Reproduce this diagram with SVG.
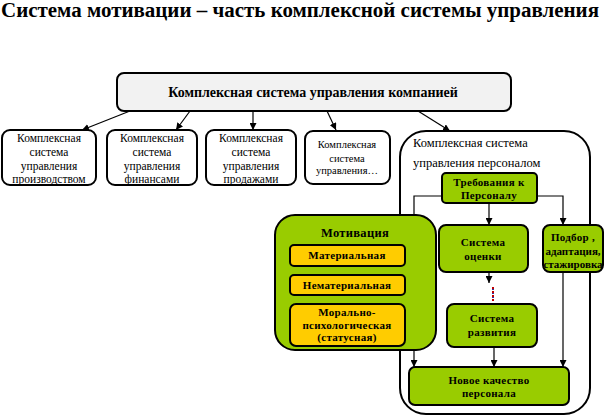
<svg xmlns="http://www.w3.org/2000/svg" width="605" height="416" viewBox="0 0 605 416">
<defs>
<marker id="ah" viewBox="0 0 10 10" refX="10" refY="5" markerWidth="7" markerHeight="7" orient="auto" markerUnits="userSpaceOnUse">
<path d="M0,0 L10,5 L0,10 z" fill="#000"/>
</marker>
<style>
text{font-family:"Liberation Serif","Times New Roman",serif;fill:#000;text-anchor:middle}
.b{font-weight:bold;letter-spacing:0.3px}
.box{stroke:#000;stroke-width:2}
.w{fill:#fff}
.g{fill:#99cc00}
.o{fill:#ffcc00}
.s{font-size:11px}
.r{font-size:11.5px}
.c{fill:none;stroke:#000;stroke-width:1.2}
</style>
</defs>
<rect width="605" height="416" fill="#fff"/>
<text x="300" y="17" font-size="20" font-weight="bold" textLength="598" lengthAdjust="spacingAndGlyphs">Система мотивации – часть комплексной системы управления</text>

<g id="personnel">
<rect class="box" x="400" y="131" width="190" height="283" rx="26" fill="#fff"/>
<text x="413" y="147" font-size="12.5" style="text-anchor:start">Комплексная система</text>
<text x="413" y="167" font-size="12.5" style="text-anchor:start">управления персоналом</text>
</g>

<g id="connectors">
<line class="c" x1="130" y1="111" x2="82" y2="130" marker-end="url(#ah)"/>
<line class="c" x1="190" y1="111" x2="176" y2="130" marker-end="url(#ah)"/>
<line class="c" x1="253" y1="111" x2="253" y2="130" marker-end="url(#ah)"/>
<line class="c" x1="327" y1="111" x2="336" y2="130" marker-end="url(#ah)"/>
<line class="c" x1="418" y1="111" x2="450" y2="131" marker-end="url(#ah)"/>
<polyline class="c" points="442,196 414,196 414,367" marker-end="url(#ah)"/>
<line class="c" x1="489" y1="203" x2="489" y2="225" marker-end="url(#ah)"/>
<polyline class="c" points="537,196 563,196 563,225" marker-end="url(#ah)"/>
<line class="c" x1="489" y1="272" x2="489" y2="283" marker-end="url(#ah)"/>
<line x1="493" y1="287" x2="493" y2="301" stroke="#c00000" stroke-width="2" stroke-dasharray="2,2"/>
<line x1="493" y1="289" x2="493" y2="301" stroke="#3030a0" stroke-width="2" stroke-dasharray="1,3"/>
<line class="c" x1="494" y1="347" x2="494" y2="367" marker-end="url(#ah)"/>
<line class="c" x1="563" y1="272" x2="563" y2="367" marker-end="url(#ah)"/>
</g>

<g id="company">
<rect class="box" x="117" y="73" width="394" height="38" rx="7" fill="#f2f2f2"/>
<text x="313" y="97" font-size="14" font-weight="bold">Комплексная система управления компанией</text>
</g>

<g id="production">
<rect class="box w" x="2" y="130" width="94" height="55" rx="8"/>
<text class="r" x="49" y="142">Комплексная</text>
<text class="r" x="49" y="156">система</text>
<text class="r" x="49" y="170">управления</text>
<text class="r" x="49" y="183">производством</text>
</g>

<g id="finance">
<rect class="box w" x="107" y="130" width="90" height="55" rx="8"/>
<text class="r" x="152" y="142">Комплексная</text>
<text class="r" x="152" y="156">система</text>
<text class="r" x="152" y="170">управления</text>
<text class="r" x="152" y="183">финансами</text>
</g>

<g id="sales">
<rect class="box w" x="206" y="130" width="90" height="55" rx="8"/>
<text class="r" x="251" y="142">Комплексная</text>
<text class="r" x="251" y="156">система</text>
<text class="r" x="251" y="170">управления</text>
<text class="r" x="251" y="183">продажами</text>
</g>

<g id="other">
<rect class="box w" x="305" y="131" width="85" height="53" rx="8"/>
<text x="347" y="148" font-size="10.5">Комплексная</text>
<text x="347" y="162" font-size="10.5">система</text>
<text x="347" y="174" font-size="10.5">управления…</text>
</g>

<g id="requirements">
<rect class="box g" x="442" y="173" width="95" height="30" rx="4"/>
<text class="b s" x="489" y="186">Требования к</text>
<text class="b s" x="489" y="199">Персоналу</text>
</g>

<g id="assessment">
<rect class="box g" x="439" y="225" width="89" height="47" rx="7"/>
<text class="b s" x="483" y="246">Система</text>
<text class="b s" x="483" y="260">оценки</text>
</g>

<g id="selection">
<rect class="box g" x="543" y="225" width="60" height="47" rx="7"/>
<text class="b s" x="573" y="241">Подбор ,</text>
<text class="b s" x="573" y="255" style="letter-spacing:0">адаптация,</text>
<text class="b s" x="573" y="268" style="letter-spacing:0">стажировка</text>
</g>

<g id="development">
<rect class="box g" x="447" y="304" width="90" height="43" rx="7"/>
<text class="b s" x="492" y="322">Система</text>
<text class="b s" x="492" y="336">развития</text>
</g>

<g id="quality">
<rect class="box g" x="409" y="367" width="160" height="38" rx="6"/>
<text class="b s" x="489" y="384">Новое качество</text>
<text class="b s" x="489" y="397">персонала</text>
</g>

<g id="motivation">
<rect class="box g" x="275" y="215" width="161" height="135" rx="20"/>
<text class="b" x="355" y="237" font-size="12.5">Мотивация</text>
<g id="material">
<rect class="box o" x="290" y="245" width="115" height="21" rx="4"/>
<text class="b s" x="347" y="259">Материальная</text>
</g>
<g id="nonmaterial">
<rect class="box o" x="290" y="275" width="115" height="20" rx="4"/>
<text class="b s" x="347" y="289">Нематериальная</text>
</g>
<g id="moral">
<rect class="box o" x="290" y="304" width="115" height="42" rx="6"/>
<text class="b s" x="347" y="316">Морально-</text>
<text class="b s" x="347" y="329">психологическая</text>
<text class="b s" x="347" y="341">(статусная)</text>
</g>
</g>
</svg>
